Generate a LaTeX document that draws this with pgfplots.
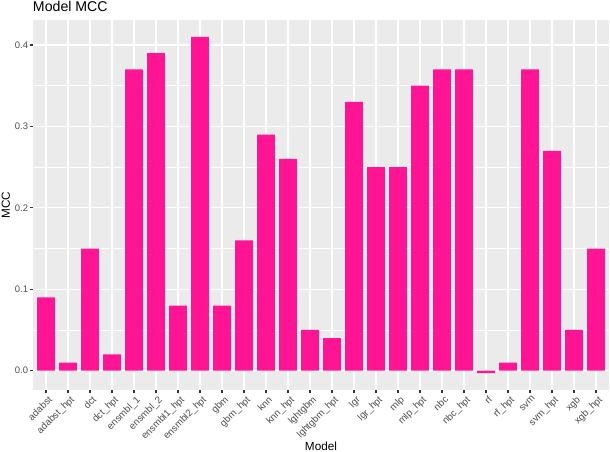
\documentclass[border=0pt]{standalone}
\usepackage{pgfplots}
\pgfplotsset{compat=1.18}
\usepackage{fontspec}
\setmainfont{Liberation Sans}
\definecolor{ggbg}{HTML}{EBEBEB}
\definecolor{barc}{HTML}{FF1493}
\definecolor{grey30}{HTML}{4D4D4D}
\definecolor{grey20}{HTML}{333333}
\begin{document}
\begin{tikzpicture}
\useasboundingbox (-32.8bp,-62bp) rectangle (577.2bp,390bp);
\begin{axis}[
  at={(0bp,0bp)}, anchor=south west,
  scale only axis, width=576.4bp, height=370bp,
  xmin=0.4, xmax=26.6, ymin=-0.0237, ymax=0.4307,
  axis background/.style={fill=ggbg},
  axis line style={draw=none},
  tick pos=left, tick align=outside,
  major tick length=3bp, minor tick length=0pt,
  tick style={grey20, line width=1.1bp},
  xtick={1,...,26},
  xticklabels={adabst,adabst\_hpt,dct,dct\_hpt,ensmbl\_1,ensmbl\_2,ensmbl1\_hpt,ensmbl2\_hpt,gbm,gbm\_hpt,knn,knn\_hpt,lghtgbm,lghtgbm\_hpt,lgr,lgr\_hpt,mlp,mlp\_hpt,nbc,nbc\_hpt,rf,rf\_hpt,svm,svm\_hpt,xgb,xgb\_hpt},
  ytick={0,0.1,0.2,0.3,0.4},
  minor ytick={0.05,0.15,0.25,0.35},
  xmajorgrids, ymajorgrids, yminorgrids,
  major grid style={white, line width=1.15bp},
  minor grid style={white, line width=0.58bp},
  x tick label style={rotate=45, anchor=north east, inner sep=1.2pt, yshift=-1.5bp, xshift=1bp, text=grey30, font=\fontsize{9.8}{11}\selectfont},
  y tick label style={text=grey30, font=\fontsize{9.5}{11}\selectfont, inner sep=1.5pt},
  yticklabel style={/pgf/number format/.cd, fixed, fixed zerofill, precision=1, assume math mode=true},
]
\addplot[ybar, bar width=0.8, fill=barc, draw=none] coordinates {
(1,0.09) (2,0.01) (3,0.15) (4,0.02) (5,0.37) (6,0.39) (7,0.08) (8,0.41)
(9,0.08) (10,0.16) (11,0.29) (12,0.26) (13,0.05) (14,0.04) (15,0.33) (16,0.25)
(17,0.25) (18,0.35) (19,0.37) (20,0.37) (21,-0.003) (22,0.01) (23,0.37) (24,0.27)
(25,0.05) (26,0.15)
};
\end{axis}
\node[anchor=base west, font=\fontsize{14.2}{16}\selectfont, inner sep=0pt] at (0bp,378bp) {Model MCC};
\node[anchor=base, font=\fontsize{11.8}{14}\selectfont, inner sep=0pt] at (288.2bp,-60.8bp) {Model};
\node[rotate=90, anchor=base, font=\fontsize{11.8}{14}\selectfont, inner sep=0pt] at (-23bp,185bp) {MCC};
\end{tikzpicture}
\end{document}
